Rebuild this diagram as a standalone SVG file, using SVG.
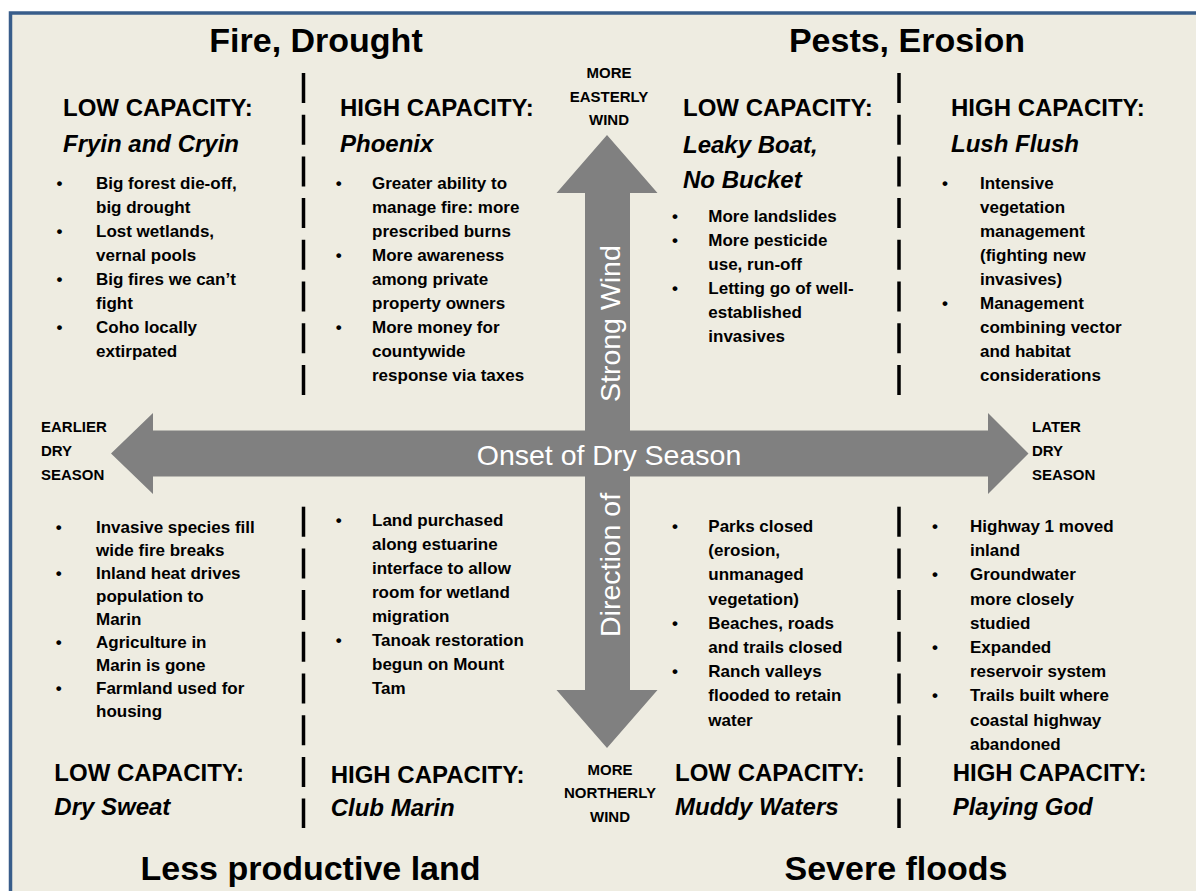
<svg xmlns="http://www.w3.org/2000/svg" width="1196" height="891" viewBox="0 0 1196 891">
<style>
text{font-family:"Liberation Sans",Arial,sans-serif;fill:#000}
.title{font-size:34px;font-weight:bold;text-anchor:middle}
.head{font-size:24px;font-weight:bold}
.name{font-size:24px;font-weight:bold;font-style:italic}
.body{font-size:17px;font-weight:bold}
.lbl{font-size:15px;font-weight:bold;text-anchor:middle}
.lbl2{font-size:15px;font-weight:bold}
.axis{font-size:28.5px;fill:#fff}
.arrow{fill:#808080}
.sep{stroke:#000;stroke-width:3.5;stroke-dasharray:30 11.7;fill:none}
</style>
<rect x="0" y="0" width="1196" height="891" fill="#fff"/>
<rect x="10.5" y="13" width="1200" height="900" fill="#EEECE1" stroke="#385D8A" stroke-width="3.5"/>

<g id="connectors">
  <polygon class="arrow" points="607,135 657.5,193 630,193 630,690 657.5,690 607,748 556.5,690 585,690 585,193 556.5,193"/>
  <text class="axis" x="620" y="402" transform="rotate(-90 620 402)">Strong Wind</text>
  <text class="axis" x="620" y="637" transform="rotate(-90 620 637)">Direction of</text>
  <polygon class="arrow" points="111,453.5 153,413 153,430.5 988,430.5 988,413 1028.5,453.5 988,494 988,476.5 153,476.5 153,494"/>
  <text class="axis" x="609" y="465" text-anchor="middle">Onset of Dry Season</text>
</g>

<g id="axis-labels">
  <g id="label-top">
    <text class="lbl" x="609" y="78.4">MORE</text>
    <text class="lbl" x="609" y="101.7">EASTERLY</text>
    <text class="lbl" x="609" y="125">WIND</text>
  </g>
  <g id="label-bottom">
    <text class="lbl" x="610" y="775">MORE</text>
    <text class="lbl" x="610" y="798">NORTHERLY</text>
    <text class="lbl" x="610" y="821.7">WIND</text>
  </g>
  <g id="label-left">
    <text class="lbl2" x="41" y="432">EARLIER</text>
    <text class="lbl2" x="41" y="456">DRY</text>
    <text class="lbl2" x="41" y="480">SEASON</text>
  </g>
  <g id="label-right">
    <text class="lbl2" x="1032" y="432">LATER</text>
    <text class="lbl2" x="1032" y="456">DRY</text>
    <text class="lbl2" x="1032" y="480">SEASON</text>
  </g>
</g>

<g id="titles">
  <text id="title-fire" class="title" x="316" y="52">Fire, Drought</text>
  <text id="title-pests" class="title" x="907" y="52">Pests, Erosion</text>
  <text id="title-land" class="title" x="310.5" y="880">Less productive land</text>
  <text id="title-floods" class="title" x="896" y="880">Severe floods</text>
</g>

<g id="separators">
  <line class="sep" x1="303.5" y1="73" x2="303.5" y2="395"/>
  <line class="sep" x1="303.5" y1="506.7" x2="303.5" y2="828"/>
  <line class="sep" x1="899" y1="73" x2="899" y2="395"/>
  <line class="sep" x1="899" y1="506.7" x2="899" y2="828"/>
</g>

<g id="fryin-and-cryin">
  <text class="head" x="63" y="116">LOW CAPACITY:</text>
  <text class="name" x="63" y="152">Fryin and Cryin</text>
  <text class="body"><tspan x="56.5" y="189">•</tspan><tspan x="56.5" y="237">•</tspan><tspan x="56.5" y="285">•</tspan><tspan x="56.5" y="333">•</tspan></text>
  <text class="body">
    <tspan x="96" y="189">Big forest die-off,</tspan>
    <tspan x="96" y="213">big drought</tspan>
    <tspan x="96" y="237">Lost wetlands,</tspan>
    <tspan x="96" y="261">vernal pools</tspan>
    <tspan x="96" y="285">Big fires we can’t</tspan>
    <tspan x="96" y="309">fight</tspan>
    <tspan x="96" y="333">Coho locally</tspan>
    <tspan x="96" y="357">extirpated</tspan>
  </text>
</g>

<g id="phoenix">
  <text class="head" x="340" y="116">HIGH CAPACITY:</text>
  <text class="name" x="340" y="152">Phoenix</text>
  <text class="body"><tspan x="335.7" y="189">•</tspan><tspan x="335.7" y="261">•</tspan><tspan x="335.7" y="333">•</tspan></text>
  <text class="body">
    <tspan x="372" y="189">Greater ability to</tspan>
    <tspan x="372" y="213">manage fire: more</tspan>
    <tspan x="372" y="237">prescribed burns</tspan>
    <tspan x="372" y="261">More awareness</tspan>
    <tspan x="372" y="285">among private</tspan>
    <tspan x="372" y="309">property owners</tspan>
    <tspan x="372" y="333">More money for</tspan>
    <tspan x="372" y="357">countywide</tspan>
    <tspan x="372" y="381">response via taxes</tspan>
  </text>
</g>

<g id="leaky-boat">
  <text class="head" x="683" y="116">LOW CAPACITY:</text>
  <text class="name" x="683" y="153">Leaky Boat,</text>
  <text class="name" x="683" y="188">No Bucket</text>
  <text class="body"><tspan x="672" y="221.5">•</tspan><tspan x="672" y="245.5">•</tspan><tspan x="672" y="293.5">•</tspan></text>
  <text class="body">
    <tspan x="708.3" y="221.5">More landslides</tspan>
    <tspan x="708.3" y="245.5">More pesticide</tspan>
    <tspan x="708.3" y="269.5">use, run-off</tspan>
    <tspan x="708.3" y="293.5">Letting go of well-</tspan>
    <tspan x="708.3" y="317.5">established</tspan>
    <tspan x="708.3" y="341.5">invasives</tspan>
  </text>
</g>

<g id="lush-flush">
  <text class="head" x="951" y="116">HIGH CAPACITY:</text>
  <text class="name" x="951" y="152">Lush Flush</text>
  <text class="body"><tspan x="942" y="189">•</tspan><tspan x="942" y="309">•</tspan></text>
  <text class="body">
    <tspan x="980" y="189">Intensive</tspan>
    <tspan x="980" y="213">vegetation</tspan>
    <tspan x="980" y="237">management</tspan>
    <tspan x="980" y="261">(fighting new</tspan>
    <tspan x="980" y="285">invasives)</tspan>
    <tspan x="980" y="309">Management</tspan>
    <tspan x="980" y="333">combining vector</tspan>
    <tspan x="980" y="357">and habitat</tspan>
    <tspan x="980" y="381">considerations</tspan>
  </text>
</g>

<g id="dry-sweat">
  <text class="body"><tspan x="55.7" y="533">•</tspan><tspan x="55.7" y="579">•</tspan><tspan x="55.7" y="648">•</tspan><tspan x="55.7" y="694">•</tspan></text>
  <text class="body">
    <tspan x="96" y="533">Invasive species fill</tspan>
    <tspan x="96" y="556">wide fire breaks</tspan>
    <tspan x="96" y="579">Inland heat drives</tspan>
    <tspan x="96" y="602">population to</tspan>
    <tspan x="96" y="625">Marin</tspan>
    <tspan x="96" y="648">Agriculture in</tspan>
    <tspan x="96" y="671">Marin is gone</tspan>
    <tspan x="96" y="694">Farmland used for</tspan>
    <tspan x="96" y="717">housing</tspan>
  </text>
  <text class="head" x="54.3" y="781">LOW CAPACITY:</text>
  <text class="name" x="54.3" y="815">Dry Sweat</text>
</g>

<g id="club-marin">
  <text class="body"><tspan x="335.7" y="526">•</tspan><tspan x="335.7" y="646">•</tspan></text>
  <text class="body">
    <tspan x="372" y="526">Land purchased</tspan>
    <tspan x="372" y="550">along estuarine</tspan>
    <tspan x="372" y="574">interface to allow</tspan>
    <tspan x="372" y="598">room for wetland</tspan>
    <tspan x="372" y="622">migration</tspan>
    <tspan x="372" y="646">Tanoak restoration</tspan>
    <tspan x="372" y="670">begun on Mount</tspan>
    <tspan x="372" y="694">Tam</tspan>
  </text>
  <text class="head" x="330.7" y="783">HIGH CAPACITY:</text>
  <text class="name" x="330.7" y="816">Club Marin</text>
</g>

<g id="muddy-waters">
  <text class="body"><tspan x="672" y="532">•</tspan><tspan x="672" y="629">•</tspan><tspan x="672" y="677">•</tspan></text>
  <text class="body">
    <tspan x="708.3" y="532">Parks closed</tspan>
    <tspan x="708.3" y="556">(erosion,</tspan>
    <tspan x="708.3" y="580">unmanaged</tspan>
    <tspan x="708.3" y="605">vegetation)</tspan>
    <tspan x="708.3" y="629">Beaches, roads</tspan>
    <tspan x="708.3" y="653">and trails closed</tspan>
    <tspan x="708.3" y="677">Ranch valleys</tspan>
    <tspan x="708.3" y="701">flooded to retain</tspan>
    <tspan x="708.3" y="726">water</tspan>
  </text>
  <text class="head" x="675" y="781">LOW CAPACITY:</text>
  <text class="name" x="675" y="815">Muddy Waters</text>
</g>

<g id="playing-god">
  <text class="body"><tspan x="932" y="532">•</tspan><tspan x="932" y="580">•</tspan><tspan x="932" y="653">•</tspan><tspan x="932" y="701">•</tspan></text>
  <text class="body">
    <tspan x="970" y="532">Highway 1 moved</tspan>
    <tspan x="970" y="556">inland</tspan>
    <tspan x="970" y="580">Groundwater</tspan>
    <tspan x="970" y="605">more closely</tspan>
    <tspan x="970" y="629">studied</tspan>
    <tspan x="970" y="653">Expanded</tspan>
    <tspan x="970" y="677">reservoir system</tspan>
    <tspan x="970" y="701">Trails built where</tspan>
    <tspan x="970" y="726">coastal highway</tspan>
    <tspan x="970" y="750">abandoned</tspan>
  </text>
  <text class="head" x="952.7" y="781">HIGH CAPACITY:</text>
  <text class="name" x="952.7" y="815">Playing God</text>
</g>
</svg>
